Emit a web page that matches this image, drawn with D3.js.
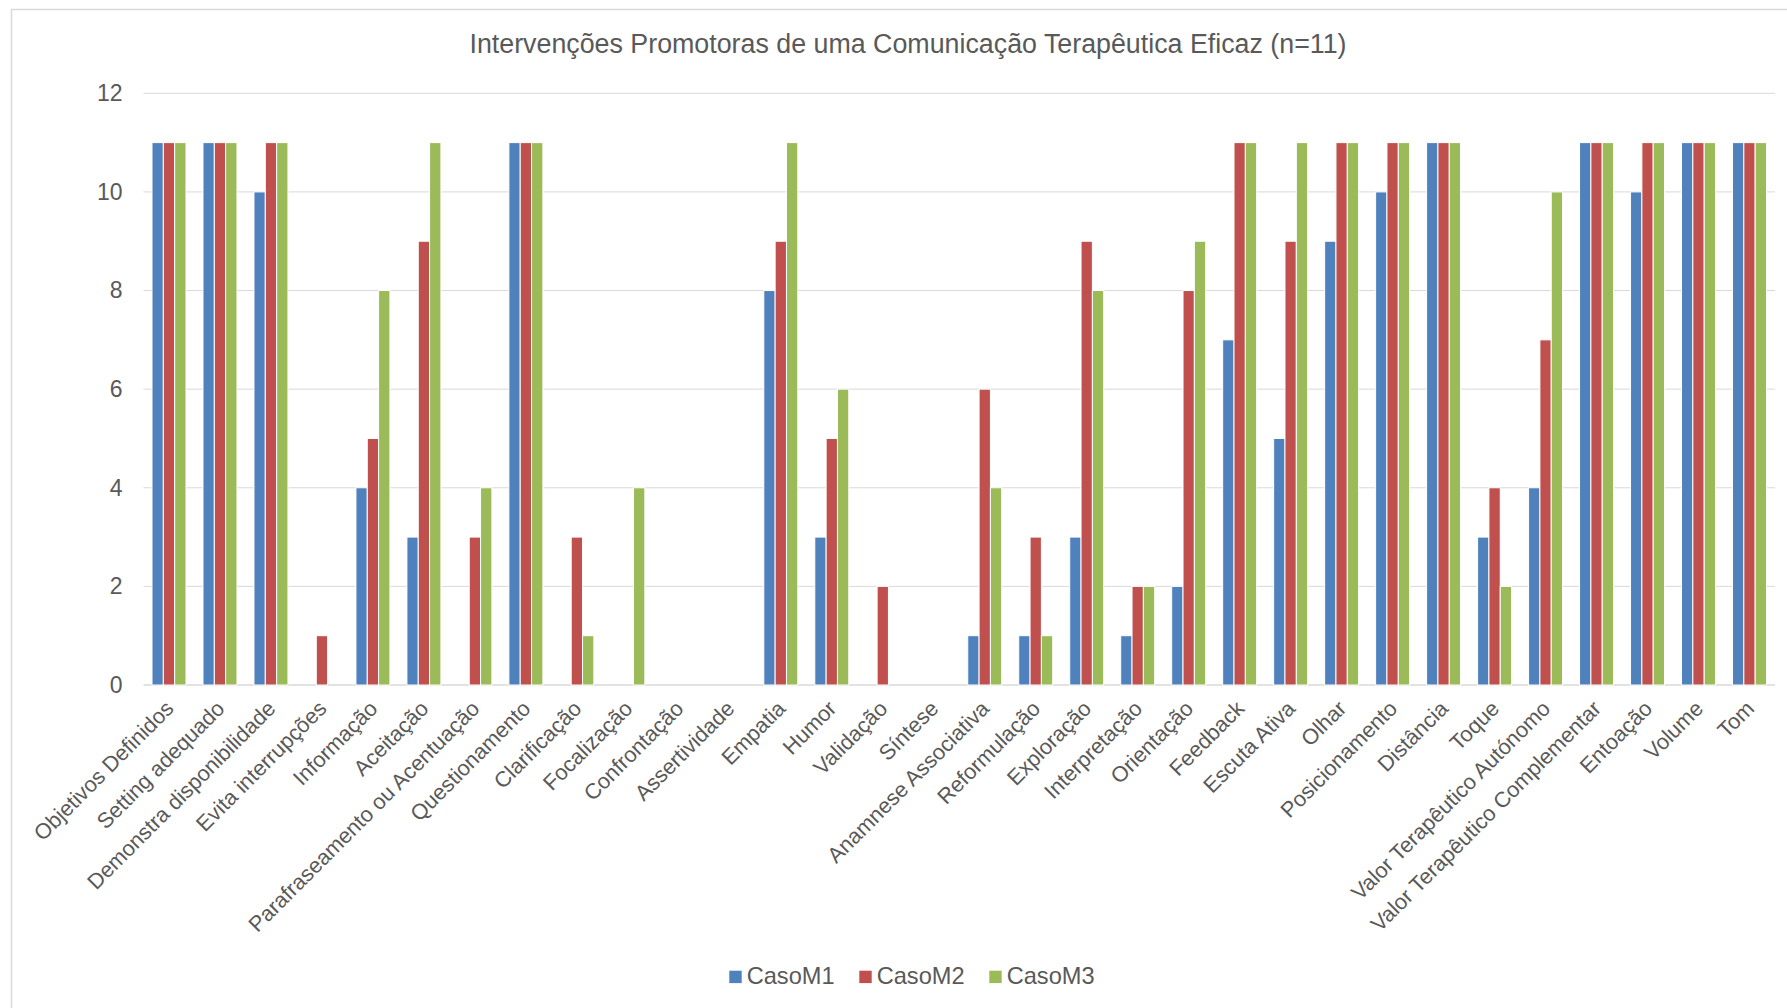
<!DOCTYPE html>
<html>
<head>
<meta charset="utf-8">
<script src="https://cdn.jsdelivr.net/npm/d3@7"></script>
<style>
  html, body { margin: 0; padding: 0; background: #fff; }
  svg { display: block; font-family: "Liberation Sans", Arial, sans-serif; }
</style>
</head>
<body>
<svg id="chart" width="1787" height="1008"></svg>
<script>
const categories = [
  "Objetivos Definidos", "Setting adequado", "Demonstra disponibilidade", "Evita interrupções",
  "Informação", "Aceitação", "Parafraseamento ou Acentuação", "Questionamento",
  "Clarificação", "Focalização", "Confrontação", "Assertividade",
  "Empatia", "Humor", "Validação", "Síntese",
  "Anamnese Associativa", "Reformulação", "Exploração", "Interpretação",
  "Orientação", "Feedback", "Escuta Ativa", "Olhar",
  "Posicionamento", "Distância", "Toque", "Valor Terapêutico Autónomo",
  "Valor Terapêutico Complementar", "Entoação", "Volume", "Tom"
];
const seriesNames = ["CasoM1", "CasoM2", "CasoM3"];
const casoM1 = [11, 11, 10, 0, 4, 3, 0, 11, 0, 0, 0, 0, 8, 3, 0, 0, 1, 1, 3, 1, 2, 7, 5, 9, 10, 11, 3, 4, 11, 10, 11, 11];
const casoM2 = [11, 11, 11, 1, 5, 9, 3, 11, 3, 0, 0, 0, 9, 5, 2, 0, 6, 3, 9, 2, 8, 11, 9, 11, 11, 11, 4, 7, 11, 11, 11, 11];
const casoM3 = [11, 11, 11, 0, 8, 11, 4, 11, 1, 4, 0, 0, 11, 6, 0, 0, 4, 1, 8, 2, 9, 11, 11, 11, 11, 11, 2, 10, 11, 11, 11, 11];
const yTicks = [0, 2, 4, 6, 8, 10, 12];
const title = "Intervenções Promotoras de uma Comunicação Terapêutica Eficaz (n=11)";
const colors = ["#4F81BD", "#C0504D", "#9BBB59"];

const seriesValues = [casoM1, casoM2, casoM3];
const rows = categories.map((c, i) => ({ cat: c, vals: seriesValues.map(s => s[i]) }));

const svg = d3.select("#chart");
const textColor = "#595959";
const gridColor = "#d9d9d9";

// chart area border
svg.append("rect")
  .attr("x", 11.5).attr("y", 9.5)
  .attr("width", 1800).attr("height", 1010)
  .attr("fill", "none").attr("stroke", gridColor).attr("stroke-width", 1.5);

const plotLeft = 143.5, plotRight = 1775, plotTop = 93.3, plotBottom = 685;

const x0 = d3.scaleBand().domain(categories).range([plotLeft, plotRight]).paddingInner(1/3).paddingOuter(1/6);
const x1 = d3.scaleBand().domain(seriesNames).range([0, x0.bandwidth()]).padding(0);
const y = d3.scaleLinear().domain([0, 12]).range([plotBottom, plotTop]);

// gridlines
svg.append("g").selectAll("line").data(yTicks).join("line")
  .attr("x1", plotLeft).attr("x2", plotRight)
  .attr("y1", d => y(d)).attr("y2", d => y(d))
  .attr("stroke", gridColor).attr("stroke-width", d => d === 0 ? 1.5 : 1);

// y axis labels via d3 axis
const yAxis = svg.append("g").attr("transform", `translate(${plotLeft - 21},0)`)
  .call(d3.axisLeft(y).tickValues(yTicks).tickSize(0).tickPadding(0));
yAxis.select(".domain").remove();
yAxis.selectAll("text")
  .attr("fill", textColor).attr("font-size", 23)
  .attr("font-family", '"Liberation Sans", Arial, sans-serif');

// bars
const groups = svg.append("g").selectAll("g").data(rows).join("g")
  .attr("transform", d => `translate(${x0(d.cat)},0)`);
groups.selectAll("rect")
  .data(d => d.vals.map((v, k) => ({ key: seriesNames[k], v, k })).filter(e => e.v > 0))
  .join("rect")
  .attr("x", d => x1(d.key))
  .attr("y", d => y(d.v))
  .attr("width", x1.bandwidth())
  .attr("height", d => y(0) - y(d.v))
  .attr("fill", d => colors[d.k])
  .attr("stroke", "#fff").attr("stroke-width", 1);

// x axis labels via d3 axis
const xAxis = svg.append("g").attr("transform", `translate(0,${plotBottom})`)
  .call(d3.axisBottom(x0).tickSize(0).tickPadding(0));
xAxis.select(".domain").remove();
xAxis.selectAll(".tick text")
  .attr("fill", textColor).attr("font-size", 21.7)
  .attr("font-family", '"Liberation Sans", Arial, sans-serif')
  .attr("text-anchor", "end")
  .attr("x", 0).attr("y", 0).attr("dy", "0.71em")
  .attr("transform", "translate(-5,14) rotate(-45)");

// title
svg.append("text")
  .attr("x", 908).attr("y", 53.3)
  .attr("text-anchor", "middle")
  .attr("fill", textColor).attr("font-size", 26.8)
  .text(title);

// legend
const legend = svg.append("g").selectAll("g").data(seriesNames).join("g")
  .attr("transform", (d, i) => `translate(${729.3 + i * 130},0)`);
legend.append("rect")
  .attr("x", 0).attr("y", 970.7).attr("width", 12.4).attr("height", 12.4)
  .attr("fill", (d, i) => colors[i]);
legend.append("text")
  .attr("x", 17.4).attr("y", 984)
  .attr("fill", textColor).attr("font-size", 23.6)
  .text(d => d);
</script>
</body>
</html>
